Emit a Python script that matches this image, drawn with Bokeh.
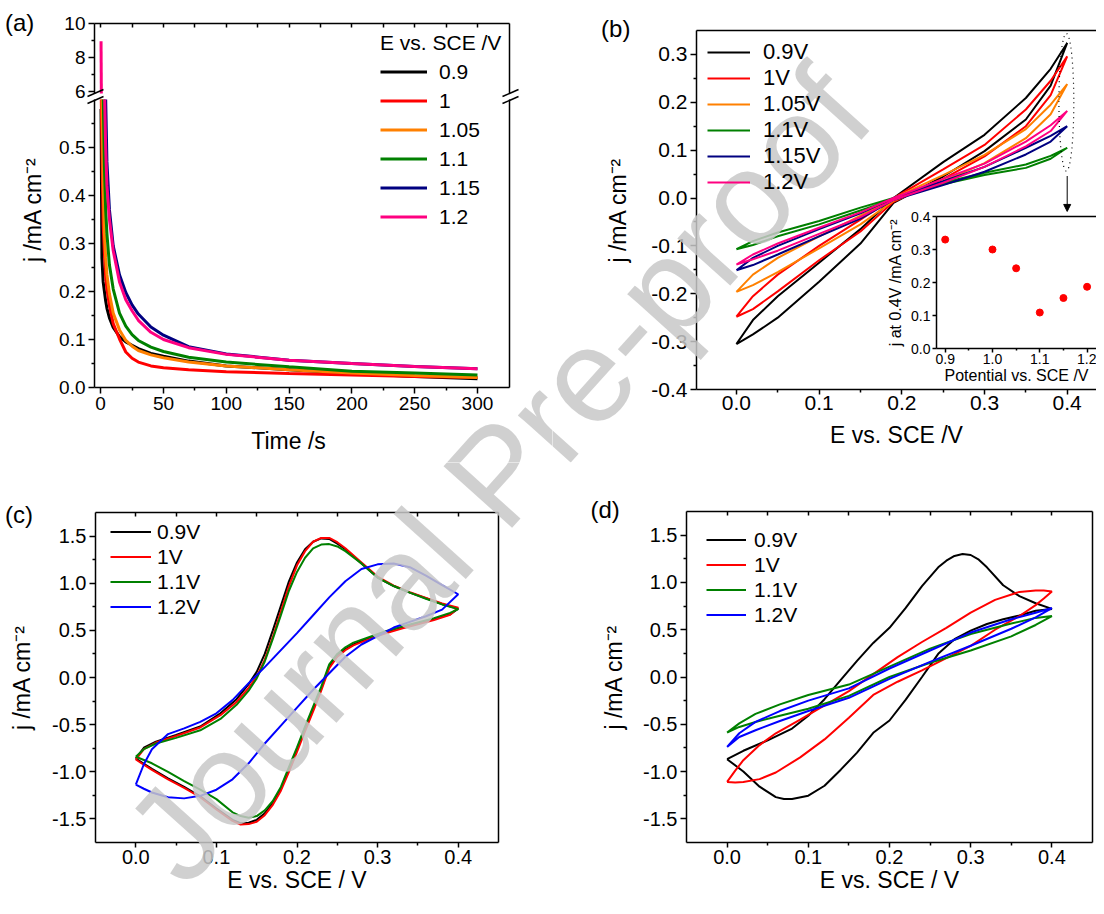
import math
from bokeh.plotting import figure
from bokeh.layouts import column, row
from bokeh.models import (Range1d, LinearAxis, FixedTicker, PrintfTickFormatter,
                          Legend, LegendItem, Arrow, NormalHead, Label)
from bokeh.embed import file_html
from bokeh.resources import INLINE

FONT = "Liberation Sans"

# ---------------- (a) current transients (lower segment starts at the axis break) ----------------
a_labels = ["0.9", "1", "1.05", "1.1", "1.15", "1.2"]
a_t_tail = [5, 7, 10, 15, 20, 25, 30, 40, 50, 70, 100, 150, 200, 250, 300]
a_t_090 = [0.3, 1, 2, 3, 4] + a_t_tail
a_j_090 = [0.58, 0.27, 0.22, 0.20, 0.18, 0.165, 0.145, 0.125, 0.106, 0.095, 0.088, 0.081, 0.071, 0.065, 0.055, 0.045, 0.037, 0.029, 0.023, 0.018]
a_t_100 = [0.5, 1, 2, 3, 4] + a_t_tail
a_j_100 = [0.60, 0.50, 0.34, 0.28, 0.23, 0.205, 0.17, 0.133, 0.101, 0.074, 0.061, 0.053, 0.045, 0.041, 0.037, 0.033, 0.029, 0.026, 0.023, 0.021]
a_t_105 = [1.1, 2, 3, 4] + a_t_tail
a_j_105 = [0.60, 0.42, 0.32, 0.27, 0.235, 0.195, 0.155, 0.12, 0.098, 0.086, 0.077, 0.068, 0.062, 0.053, 0.045, 0.037, 0.030, 0.025, 0.021]
a_t_110 = [2.1, 3, 4] + a_t_tail
a_j_110 = [0.60, 0.46, 0.37, 0.32, 0.255, 0.205, 0.155, 0.128, 0.11, 0.098, 0.084, 0.075, 0.063, 0.053, 0.043, 0.034, 0.030, 0.026]
a_t_115 = [4] + a_t_tail
a_j_115 = [0.60, 0.47, 0.37, 0.295, 0.235, 0.198, 0.172, 0.153, 0.126, 0.109, 0.085, 0.070, 0.057, 0.050, 0.044, 0.039]
a_t_120 = [3.2, 4] + a_t_tail
a_j_120 = [0.60, 0.50, 0.42, 0.35, 0.285, 0.22, 0.183, 0.16, 0.14, 0.115, 0.10, 0.083, 0.069, 0.057, 0.050, 0.044, 0.039]
a_spike_t = [0.3, 0.55]          # 1.2 V initial spike, upper segment
a_spike_j = [8.96, 5.9]
a_xticks = [0, 50, 100, 150, 200, 250, 300]
a_xminor = [25, 75, 125, 175, 225, 275]
a_top_minor = [0, 25, 50, 75, 100, 125, 150, 175, 200, 225, 250, 275, 300]
a_yticks_low = [0.0, 0.1, 0.2, 0.3, 0.4, 0.5]
a_yminor_low = [0.05, 0.15, 0.25, 0.35, 0.45, 0.55]
a_yticks_up = [6, 8, 10]
a_yminor_up = [7, 9]

# ---------------- (b) CVs ----------------
b_labels = ["0.9V", "1V", "1.05V", "1.1V", "1.15V", "1.2V"]
b_E = [0, 0.02, 0.05, 0.1, 0.15, 0.19, 0.25, 0.3, 0.35, 0.38, 0.4]
b_fwd_090 = [-0.305, -0.255, -0.205, -0.135, -0.065, 0.0, 0.075, 0.132, 0.209, 0.27, 0.324]
b_rev_090 = [-0.305, -0.285, -0.25, -0.175, -0.095, -0.01, 0.045, 0.098, 0.164, 0.235, 0.324]
b_fwd_100 = [-0.248, -0.205, -0.16, -0.1, -0.045, 0.0, 0.06, 0.111, 0.185, 0.245, 0.296]
b_rev_100 = [-0.248, -0.232, -0.195, -0.13, -0.07, -0.008, 0.04, 0.087, 0.15, 0.215, 0.296]
b_fwd_105 = [-0.196, -0.16, -0.125, -0.08, -0.037, 0.0, 0.048, 0.09, 0.144, 0.195, 0.238]
b_rev_105 = [-0.196, -0.182, -0.155, -0.105, -0.055, -0.006, 0.035, 0.073, 0.125, 0.175, 0.238]
b_fwd_110 = [-0.107, -0.09, -0.072, -0.048, -0.02, 0.0, 0.032, 0.053, 0.07, 0.088, 0.105]
b_rev_110 = [-0.107, -0.098, -0.08, -0.055, -0.026, -0.003, 0.029, 0.048, 0.063, 0.082, 0.105]
b_fwd_115 = [-0.151, -0.125, -0.1, -0.065, -0.032, 0.0, 0.035, 0.065, 0.105, 0.13, 0.150]
b_rev_115 = [-0.151, -0.14, -0.118, -0.08, -0.043, -0.004, 0.027, 0.055, 0.091, 0.118, 0.150]
b_fwd_120 = [-0.139, -0.118, -0.095, -0.062, -0.03, 0.0, 0.04, 0.072, 0.118, 0.152, 0.182]
b_rev_120 = [-0.139, -0.128, -0.11, -0.075, -0.04, -0.004, 0.032, 0.065, 0.108, 0.14, 0.182]
b_xticks = [0.0, 0.1, 0.2, 0.3, 0.4]
b_xminor = [0.05, 0.15, 0.25, 0.35]
b_yticks = [-0.4, -0.3, -0.2, -0.1, 0.0, 0.1, 0.2, 0.3]
b_yminor = [-0.35, -0.25, -0.15, -0.05, 0.05, 0.15, 0.25]

# inset of (b): current at 0.4 V
inset_E = [0.9, 1.0, 1.05, 1.1, 1.15, 1.2]
inset_j = [0.330, 0.300, 0.243, 0.109, 0.153, 0.187]
inset_xticks = [0.9, 1.0, 1.1, 1.2]
inset_xminor = [0.95, 1.05, 1.15]
inset_yticks = [0.0, 0.1, 0.2, 0.3, 0.4]

# ---------------- (c) CVs ----------------
cd_labels = ["0.9V", "1V", "1.1V", "1.2V"]
c_E_fwd = [0, 0.01, 0.025, 0.05, 0.08, 0.105, 0.125, 0.14, 0.15, 0.16, 0.17, 0.18, 0.19, 0.2, 0.21, 0.22, 0.23, 0.24, 0.25, 0.26, 0.28, 0.3, 0.32, 0.34, 0.36, 0.38, 0.4]
c_E_rev = [0.4, 0.39, 0.37, 0.35, 0.33, 0.31, 0.29, 0.27, 0.26, 0.25, 0.24, 0.23, 0.22, 0.21, 0.2, 0.19, 0.18, 0.17, 0.16, 0.15, 0.14, 0.13, 0.12, 0.1, 0.08, 0.06, 0.04, 0.02, 0]
c_fwd_090 = [-0.86, -0.745, -0.68, -0.61, -0.52, -0.38, -0.23, -0.07, 0.06, 0.25, 0.5, 0.76, 1.02, 1.22, 1.36, 1.44, 1.475, 1.47, 1.42, 1.36, 1.21, 1.06, 0.97, 0.9, 0.84, 0.78, 0.73]
c_rev_090 = [0.73, 0.67, 0.62, 0.575, 0.53, 0.48, 0.42, 0.35, 0.30, 0.23, 0.12, -0.12, -0.33, -0.54, -0.76, -0.97, -1.18, -1.33, -1.44, -1.51, -1.54, -1.545, -1.51, -1.39, -1.26, -1.16, -1.07, -0.97, -0.86]
c_fwd_100 = [-0.87, -0.76, -0.69, -0.62, -0.53, -0.40, -0.26, -0.11, 0.01, 0.19, 0.43, 0.70, 0.97, 1.19, 1.34, 1.44, 1.48, 1.48, 1.435, 1.37, 1.22, 1.07, 0.975, 0.905, 0.845, 0.785, 0.74]
c_rev_100 = [0.74, 0.665, 0.61, 0.565, 0.52, 0.47, 0.41, 0.34, 0.29, 0.22, 0.1, -0.14, -0.36, -0.57, -0.79, -1.0, -1.2, -1.35, -1.46, -1.53, -1.555, -1.56, -1.52, -1.40, -1.27, -1.17, -1.08, -0.98, -0.87]
c_fwd_110 = [-0.84, -0.76, -0.70, -0.64, -0.56, -0.44, -0.29, -0.14, -0.01, 0.17, 0.41, 0.66, 0.92, 1.12, 1.27, 1.37, 1.41, 1.415, 1.39, 1.34, 1.21, 1.06, 0.97, 0.9, 0.835, 0.775, 0.725]
c_rev_110 = [0.725, 0.685, 0.63, 0.585, 0.54, 0.49, 0.43, 0.37, 0.32, 0.25, 0.14, -0.10, -0.31, -0.52, -0.74, -0.95, -1.16, -1.31, -1.41, -1.47, -1.487, -1.47, -1.43, -1.29, -1.19, -1.10, -1.0, -0.91, -0.84]
c_E_120 = [0, 0.01, 0.02, 0.04, 0.06, 0.08, 0.1, 0.12, 0.14, 0.16, 0.18, 0.2, 0.22, 0.24, 0.26, 0.28, 0.3, 0.32, 0.34, 0.36, 0.38, 0.4]
c_fwd_120 = [-1.137, -0.92, -0.76, -0.6, -0.54, -0.47, -0.38, -0.24, -0.06, 0.11, 0.29, 0.47, 0.66, 0.85, 1.02, 1.15, 1.2, 1.21, 1.17, 1.08, 0.98, 0.883]
c_rev_120 = [0.883, 0.72, 0.65, 0.59, 0.53, 0.44, 0.35, 0.22, 0.045, -0.13, -0.32, -0.51, -0.70, -0.91, -1.08, -1.19, -1.255, -1.282, -1.27, -1.22, -1.18, -1.137]

# ---------------- (d) CVs ----------------
d_E_fwd_090 = [0, 0.02, 0.05, 0.08, 0.1, 0.12, 0.14, 0.16, 0.18, 0.2, 0.22, 0.24, 0.26, 0.27, 0.28, 0.29, 0.3, 0.31, 0.32, 0.34, 0.36, 0.38, 0.4]
d_fwd_090 = [-0.869, -0.78, -0.67, -0.545, -0.41, -0.235, -0.03, 0.17, 0.36, 0.52, 0.73, 0.96, 1.16, 1.23, 1.28, 1.30, 1.29, 1.24, 1.16, 0.97, 0.855, 0.78, 0.72]
d_E_rev_090 = [0.4, 0.38, 0.36, 0.34, 0.32, 0.3, 0.28, 0.26, 0.24, 0.22, 0.2, 0.18, 0.16, 0.14, 0.12, 0.1, 0.08, 0.07, 0.06, 0.04, 0.02, 0]
d_rev_090 = [0.72, 0.70, 0.65, 0.61, 0.56, 0.49, 0.40, 0.245, 0.0, -0.24, -0.46, -0.59, -0.80, -0.98, -1.15, -1.255, -1.29, -1.29, -1.27, -1.16, -1.0, -0.869]
d_E_fwd_100 = [0, 0.01, 0.02, 0.04, 0.06, 0.09, 0.12, 0.15, 0.18, 0.21, 0.24, 0.27, 0.3, 0.33, 0.36, 0.38, 0.39, 0.4]
d_fwd_100 = [-1.109, -0.99, -0.88, -0.72, -0.595, -0.45, -0.3, -0.15, 0.03, 0.21, 0.37, 0.52, 0.68, 0.815, 0.9, 0.915, 0.915, 0.905]
d_E_rev_100 = [0.4, 0.39, 0.38, 0.36, 0.33, 0.3, 0.27, 0.24, 0.21, 0.18, 0.15, 0.12, 0.09, 0.06, 0.04, 0.02, 0.01, 0]
d_rev_100 = [0.905, 0.83, 0.76, 0.645, 0.50, 0.33, 0.20, 0.07, -0.05, -0.19, -0.43, -0.66, -0.85, -1.01, -1.08, -1.11, -1.116, -1.109]
d_E_lin = [0, 0.015, 0.035, 0.065, 0.1, 0.15, 0.2, 0.25, 0.3, 0.35, 0.38, 0.4]
d_fwd_110 = [-0.588, -0.49, -0.39, -0.29, -0.19, -0.08, 0.11, 0.30, 0.455, 0.565, 0.625, 0.644]
d_rev_110 = [0.644, 0.55, 0.43, 0.28, 0.15, 0.0, -0.2, -0.335, -0.41, -0.475, -0.528, -0.588]
d_fwd_120 = [-0.739, -0.595, -0.475, -0.36, -0.25, -0.12, 0.09, 0.28, 0.47, 0.61, 0.68, 0.729]
d_rev_120 = [0.729, 0.63, 0.51, 0.33, 0.16, -0.02, -0.22, -0.36, -0.465, -0.563, -0.634, -0.739]

cd_xticks = [0.0, 0.1, 0.2, 0.3, 0.4]
cd_xminor = [0.05, 0.15, 0.25, 0.35]
cd_top_minor = [0.0, 0.05, 0.1, 0.15, 0.2, 0.25, 0.3, 0.35, 0.4]
cd_yticks = [-1.5, -1.0, -0.5, 0.0, 0.5, 1.0, 1.5]
cd_yminor = [-1.25, -0.75, -0.25, 0.25, 0.75, 1.25]

A_COLORS = ["#000000", "#ff0000", "#ff8000", "#008000", "#000080", "#ff0080"]
CD_COLORS = ["#000000", "#ff0000", "#008000", "#0000ff"]
SUP = "j /mA cm\u207b\u00b2"
WM_TEXT = "Journal Pre-proof"

# ---------------- page geometry (page pixels) ----------------
TILE_A = (8, 8, 560, 470)
TILE_B = (560, 8, 1104, 470)
TILE_C = (8, 470, 560, 906)
TILE_D = (560, 470, 1104, 906)
WM_POS = (505, 482)


def lin_x(tb, p0, p1, v0, v1):
    s = (v1 - v0) / (p1 - p0)
    return (v0 + (tb[0] - p0) * s, v0 + (tb[2] - p0) * s)


def lin_y(tb, p0, p1, v0, v1):
    s = (v1 - v0) / (p1 - p0)
    return (v0 + (tb[3] - p0) * s, v0 + (tb[1] - p0) * s)


def to_data(tb, xr, yr, px, py):
    return (xr[0] + (px - tb[0]) / (tb[2] - tb[0]) * (xr[1] - xr[0]),
            yr[0] + (tb[3] - py) / (tb[3] - tb[1]) * (yr[1] - yr[0]))


def tile(tb, xr, yr):
    p = figure(width=tb[2] - tb[0], height=tb[3] - tb[1],
               x_range=Range1d(*xr), y_range=Range1d(*yr),
               output_backend="svg", toolbar_location=None, title=None,
               x_axis_location=None, y_axis_location=None,
               min_border_left=0, min_border_right=0, min_border_top=0, min_border_bottom=0)
    p.background_fill_color = "white"
    p.border_fill_color = "white"
    p.outline_line_color = None
    p.grid.visible = False
    return p


def add_axis(p, side, ticks=(), minor=(), fmt="%.1f", fs="20px",
             out=6, inn=0, mout=3, minn=0, standoff=3, label=None, lfs="23px",
             lstand=5, lw=1.5, **kw):
    ax = LinearAxis(ticker=FixedTicker(ticks=list(ticks), minor_ticks=list(minor)),
                    formatter=PrintfTickFormatter(format=fmt), **kw)
    ax.axis_line_color = "black"
    ax.axis_line_width = lw
    ax.major_tick_line_color = "black"
    ax.major_tick_line_width = lw
    ax.minor_tick_line_color = "black"
    ax.minor_tick_line_width = lw
    ax.major_tick_out = out
    ax.major_tick_in = inn
    ax.minor_tick_out = mout
    ax.minor_tick_in = minn
    ax.major_label_text_font = FONT
    ax.major_label_text_color = "black"
    ax.major_label_text_font_size = fs
    ax.major_label_standoff = standoff
    if label is not None:
        ax.axis_label = label
        ax.axis_label_text_font = FONT
        ax.axis_label_text_font_size = lfs
        ax.axis_label_text_font_style = "normal"
        ax.axis_label_text_color = "black"
        ax.axis_label_standoff = lstand
    p.add_layout(ax, side)
    return ax


def add_legend(p, tb, rends, labels, left_px, bottom_px, gw, ih, fs, stand, title=None):
    lg = Legend(items=[LegendItem(label=l, renderers=[r]) for l, r in zip(labels, rends)],
                location=(int(round(left_px - tb[0])), int(round(tb[3] - bottom_px))),
                glyph_width=gw, glyph_height=ih, label_height=ih,
                spacing=0, padding=0, margin=0, label_standoff=stand,
                label_text_font=FONT, label_text_font_size=fs, label_text_color="black",
                background_fill_alpha=0, border_line_color=None)
    if title:
        lg.title = title
        lg.title_text_font = FONT
        lg.title_text_font_size = fs
        lg.title_text_font_style = "normal"
        lg.title_text_color = "black"
        lg.title_standoff = 2
    p.add_layout(lg)


def add_text(p, tb, xr, yr, px, py, text, fs, angle=0.0, align="left", baseline="middle",
             color="black", alpha=1.0):
    x, y = to_data(tb, xr, yr, px, py)
    p.add_layout(Label(x=x, y=y, text=text, angle=angle, text_font=FONT, text_font_size=fs,
                       text_color=color, text_alpha=alpha, text_align=align,
                       text_baseline=baseline))


def add_watermark(p, tb, xr, yr):
    add_text(p, tb, xr, yr, WM_POS[0], WM_POS[1], WM_TEXT, "134px", angle=math.radians(48),
             align="center", baseline="middle", color="#c8c8c8", alpha=0.85)


# ---------------- panel (a): broken y axis ----------------
A_XB = (-4.9, 325.5)                                   # visible x extent of the panel
XR_A = lin_x(TILE_A, 102, 517, A_XB[0], A_XB[1])
YR_A = lin_y(TILE_A, 395, 107, 0.0, 0.6)
YR_A_UP = lin_y(TILE_A, 101, 31, 5.9, 10.0)
pa = tile(TILE_A, XR_A, YR_A)
pa.extra_y_ranges = {"up": Range1d(*YR_A_UP)}
add_axis(pa, "left", a_yticks_low, a_yminor_low, fs="19px", bounds=(0, 0.6), fixed_location=A_XB[0])
add_axis(pa, "left", a_yticks_up, a_yminor_up, fmt="%d", fs="19px", y_range_name="up",
         bounds=(5.9, 10), fixed_location=A_XB[0])
add_axis(pa, "right", bounds=(0, 0.6), fixed_location=A_XB[1])
add_axis(pa, "right", y_range_name="up", bounds=(5.9, 10), fixed_location=A_XB[1])
add_axis(pa, "below", a_xticks, a_xminor, fmt="%d", fs="19px", bounds=A_XB, fixed_location=0.0)
add_axis(pa, "above", [], a_top_minor, mout=0, minn=4, y_range_name="up",
         bounds=A_XB, fixed_location=10.0)
a_series = [(a_t_090, a_j_090), (a_t_100, a_j_100), (a_t_105, a_j_105),
            (a_t_110, a_j_110), (a_t_115, a_j_115), (a_t_120, a_j_120)]
ra = [pa.line(t, j, line_color=c, line_width=3) for (t, j), c in zip(a_series, A_COLORS)]
pa.line(a_spike_t, a_spike_j, line_color=A_COLORS[5], line_width=3, y_range_name="up")
add_legend(pa, TILE_A, ra, a_labels, 388, 239, 47, 29, "21px", 12, title="E vs. SCE /V")
for yb in (104, 111):   # axis-break marks
    for xb in (102, 517):
        x0, y0 = to_data(TILE_A, XR_A, YR_A, xb - 7, yb)
        x1, y1 = to_data(TILE_A, XR_A, YR_A, xb + 9, yb - 7)
        pa.add_layout(Arrow(end=None, x_start=x0, y_start=y0, x_end=x1, y_end=y1,
                            line_color="black", line_width=1.5))
add_text(pa, TILE_A, XR_A, YR_A, 12.5, 30, "(a)", "24px")
add_text(pa, TILE_A, XR_A, YR_A, 40, 217, SUP, "23px", angle=math.pi / 2, align="center")
add_text(pa, TILE_A, XR_A, YR_A, 296, 448, "Time /s", "23px", align="center")
add_watermark(pa, TILE_A, XR_A, YR_A)

# ---------------- panel (b) with inset ----------------
B_XB, B_YB = (-0.04825, 0.45), (-0.4, 0.35)
XR_B = lin_x(TILE_B, 743.9, 1074.7, 0.0, 0.4)
YR_B = lin_y(TILE_B, 397, 38, -0.4, 0.35)
IN_XB, IN_YB = (0.8816, 1.2199), (0.0, 0.4)
XR_IN = lin_x(TILE_B, 944, 1104, IN_XB[0], IN_XB[1])
YR_IN = lin_y(TILE_B, 356, 224, 0.0, 0.4)
pb = tile(TILE_B, XR_B, YR_B)
pb.extra_x_ranges = {"ix": Range1d(*XR_IN)}
pb.extra_y_ranges = {"iy": Range1d(*YR_IN)}
add_axis(pb, "left", b_yticks, b_yminor, fs="21px", label=SUP, lstand=17,
         bounds=B_YB, fixed_location=B_XB[0])
add_axis(pb, "below", b_xticks, b_xminor, fs="21px", out=5, mout=3, standoff=1,
         label="E vs. SCE /V", lstand=9, bounds=B_XB, fixed_location=B_YB[0])
add_axis(pb, "above", bounds=B_XB, fixed_location=B_YB[1])
b_pairs = [(b_fwd_090, b_rev_090), (b_fwd_100, b_rev_100), (b_fwd_105, b_rev_105),
           (b_fwd_110, b_rev_110), (b_fwd_115, b_rev_115), (b_fwd_120, b_rev_120)]
rb = [pb.line(b_E + b_E[::-1], f + r[::-1], line_color=c, line_width=2)
      for (f, r), c in zip(b_pairs, A_COLORS)]
add_legend(pb, TILE_B, rb, b_labels, 715, 203, 43, 26, "22px", 13)
pb.ellipse(x=[0.399], y=[0.2], width=[0.018], height=[0.288], fill_color=None,
           line_color="black", line_width=1.2, line_dash="1 4")
pb.add_layout(Arrow(end=NormalHead(size=7, fill_color="black", line_color="black"),
                    x_start=0.4, y_start=0.046, x_end=0.4, y_end=-0.028,
                    line_color="black", line_width=1))
# inset, with its own scales on extra ranges
pb.quad(left=[IN_XB[0]], right=[IN_XB[1]], bottom=[IN_YB[0]], top=[IN_YB[1]],
        fill_color="white", line_color=None, x_range_name="ix", y_range_name="iy")
pb.scatter(inset_E, inset_j, size=7, color="#ff0000", x_range_name="ix", y_range_name="iy")
add_axis(pb, "left", inset_yticks, [], fs="14px", out=4, standoff=2,
         label="j at 0.4V /mA cm\u207b\u00b2", lfs="16px", lstand=4,
         x_range_name="ix", y_range_name="iy", bounds=IN_YB, fixed_location=IN_XB[0])
add_axis(pb, "below", inset_xticks, inset_xminor, fs="14px", out=4, mout=2, standoff=1,
         label="Potential vs. SCE /V", lfs="16px", lstand=0,
         x_range_name="ix", y_range_name="iy", bounds=IN_XB, fixed_location=IN_YB[0])
add_axis(pb, "above", x_range_name="ix", y_range_name="iy", bounds=IN_XB,
         fixed_location=IN_YB[1])
add_text(pb, TILE_B, XR_B, YR_B, 608.6, 36, "(b)", "24px")
add_watermark(pb, TILE_B, XR_B, YR_B)


# ---------------- panels (c) and (d) ----------------
def cv_panel(tb, frame, loops, letter, letter_pos, leg_pos, gw, stand, lstand):
    xb, yb = (-0.05, 0.45), (-1.75, 1.75)
    xr = lin_x(tb, frame[0], frame[2], xb[0], xb[1])
    yr = lin_y(tb, frame[3], frame[1], yb[0], yb[1])
    p = tile(tb, xr, yr)
    add_axis(p, "left", cd_yticks, cd_yminor, fs="20px", label=SUP, lstand=lstand,
             bounds=yb, fixed_location=xb[0])
    add_axis(p, "below", cd_xticks, cd_xminor, fs="20px", out=5, standoff=2,
             label="E vs. SCE / V", lstand=0, bounds=xb, fixed_location=yb[0])
    add_axis(p, "above", [], cd_top_minor, mout=0, minn=4, bounds=xb, fixed_location=yb[1])
    add_axis(p, "right", bounds=yb, fixed_location=xb[1])
    rs = [p.line(ef + er, jf + jr, line_color=c, line_width=2)
          for (ef, jf, er, jr), c in zip(loops, CD_COLORS)]
    add_legend(p, tb, rs, cd_labels, leg_pos[0], leg_pos[1], gw, 25, "21px", stand)
    add_text(p, tb, xr, yr, letter_pos[0], letter_pos[1], letter, "24px")
    add_watermark(p, tb, xr, yr)
    return p


c_loops = [(c_E_fwd, c_fwd_090, c_E_rev, c_rev_090), (c_E_fwd, c_fwd_100, c_E_rev, c_rev_100),
           (c_E_fwd, c_fwd_110, c_E_rev, c_rev_110), (c_E_120, c_fwd_120, c_E_120[::-1], c_rev_120)]
d_loops = [(d_E_fwd_090, d_fwd_090, d_E_rev_090, d_rev_090),
           (d_E_fwd_100, d_fwd_100, d_E_rev_100, d_rev_100),
           (d_E_lin, d_fwd_110, d_E_lin[::-1], d_rev_110),
           (d_E_lin, d_fwd_120, d_E_lin[::-1], d_rev_120)]
pc = cv_panel(TILE_C, (103, 520, 506, 850), c_loops, "(c)", (12.5, 522), (118, 627), 41, 6, 14)
pd = cv_panel(TILE_D, (694, 519, 1100, 850), d_loops, "(d)", (598, 517), (714, 635), 40, 8, 13)

root = column(row(pa, pb), row(pc, pd))
open("out.html", "w").write(file_html(root, INLINE, title="figure"))
